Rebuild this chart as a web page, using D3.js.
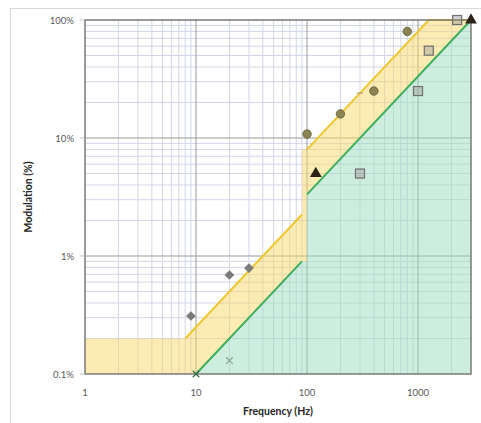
<!DOCTYPE html>
<html>
<head>
<meta charset="utf-8">
<script src="https://cdn.jsdelivr.net/npm/d3@7"></script>
<style>
  body { margin: 0; background: #fff; }
  svg { display: block; }
</style>
</head>
<body>
<script>
var w = 481;
var h = 423;

// axis ticks
var xTicks = [1, 10, 100, 1000];
var xTickLabels = ["1", "10", "100", "1000"];
var yTicks = [0.1, 1, 10, 100];
var yTickLabels = ["0.1%", "1%", "10%", "100%"];

// low-risk limit (yellow) and no-effect limit (green), in %
var lowRiskFreq1 = [8, 90];
var lowRiskMod1 = [0.2, 2.25];
var lowRiskFreq2 = [100, 1250, 3000];
var lowRiskMod2 = [8, 100, 100];
var noEffectFreq1 = [10, 90];
var noEffectMod1 = [0.1, 0.9];
var noEffectFreq2 = [100, 3000];
var noEffectMod2 = [3.33, 100];

// measured lamps
var diamondFreq = [9, 20, 30];
var diamondMod = [0.31, 0.69, 0.79];
var circleFreq = [100, 200, 400, 800];
var circleMod = [10.8, 16, 25, 80];
var squareFreq = [300, 1000, 1250, 2250];
var squareMod = [5, 25, 55, 100];
var triangleFreq = [120, 3000];
var triangleMod = [5, 100];
var crossFreq = [20, 10];
var crossMod = [0.13, 0.1];
var dashFreq = [300];
var dashMod = [24];

var svg = d3.select("body").append("svg")
            .attr("width", w)
            .attr("height", h);

// outer chart frame
svg.append("rect")
   .attr("x", 10.5).attr("y", 8.5)
   .attr("width", 490).attr("height", 430)
   .attr("fill", "none")
   .attr("stroke", "#d9d9d9");

var x = d3.scaleLog().domain([1, 3000]).range([85, 471]);
var y = d3.scaleLog().domain([0.1, 100]).range([374, 20]);

function zip(f, m) {
  return f.map(function(d, i) { return [d, m[i]]; });
}

// minor grid
var minorX = [], minorY = [];
[1, 10, 100, 1000].forEach(function(dec) {
  for (var k = 2; k <= 9; k++) {
    if (dec * k < 3000) minorX.push(dec * k);
  }
});
[0.1, 1, 10].forEach(function(dec) {
  for (var k = 2; k <= 9; k++) minorY.push(dec * k);
});

var grid = svg.append("g");
grid.selectAll(".mx").data(minorX).enter().append("line")
    .attr("x1", function(d){ return x(d); }).attr("x2", function(d){ return x(d); })
    .attr("y1", y(100)).attr("y2", y(0.1))
    .attr("stroke", "#d3d6ea").attr("stroke-width", 1);
grid.selectAll(".my").data(minorY).enter().append("line")
    .attr("y1", function(d){ return y(d); }).attr("y2", function(d){ return y(d); })
    .attr("x1", x(1)).attr("x2", x(3000))
    .attr("stroke", "#d3d6ea").attr("stroke-width", 1);
grid.selectAll(".Mx").data([10, 100, 1000]).enter().append("line")
    .attr("x1", function(d){ return x(d); }).attr("x2", function(d){ return x(d); })
    .attr("y1", y(100)).attr("y2", y(0.1))
    .attr("stroke", "#9a9a9a").attr("stroke-width", 1);
grid.selectAll(".My").data([1, 10]).enter().append("line")
    .attr("y1", function(d){ return y(d); }).attr("y2", function(d){ return y(d); })
    .attr("x1", x(1)).attr("x2", x(3000))
    .attr("stroke", "#9a9a9a").attr("stroke-width", 1);

var line = d3.line()
  .x(function(d){ return x(d[0]); })
  .y(function(d){ return y(d[1]); });

// green area under the no-effect limit
var greenArea = [[10, 0.1]].concat(zip(noEffectFreq1, noEffectMod1))
  .concat([[100, 0.9]]).concat(zip(noEffectFreq2, noEffectMod2))
  .concat([[3000, 0.1]]);

// yellow area between the two limits
var upper = [[1, 0.2]].concat(zip(lowRiskFreq1, lowRiskMod1))
  .concat([[90, 8]]).concat(zip(lowRiskFreq2, lowRiskMod2));
var lower = greenArea.slice(0, greenArea.length - 1).reverse().concat([[1, 0.1]]);
var yellowArea = [[1, 0.1]].concat(upper).concat(lower);

svg.append("path").attr("d", line(yellowArea) + "Z")
   .attr("fill", "#fcd86a").attr("fill-opacity", 0.5);
svg.append("path").attr("d", line(greenArea) + "Z")
   .attr("fill", "#9bddbd").attr("fill-opacity", 0.5);

// limit lines
[zip(lowRiskFreq1, lowRiskMod1), zip(lowRiskFreq2, lowRiskMod2)].forEach(function(seg) {
  svg.append("path").attr("d", line(seg))
     .attr("fill", "none").attr("stroke", "#f0c832").attr("stroke-width", 2);
});
[zip(noEffectFreq1, noEffectMod1), zip(noEffectFreq2, noEffectMod2)].forEach(function(seg) {
  svg.append("path").attr("d", line(seg))
     .attr("fill", "none").attr("stroke", "#3fae5e").attr("stroke-width", 2);
});

// plot frame
svg.append("rect")
   .attr("x", x(1)).attr("y", y(100))
   .attr("width", x(3000) - x(1)).attr("height", y(0.1) - y(100))
   .attr("fill", "none").attr("stroke", "#7a7a7a").attr("stroke-width", 1.5);

// markers
svg.selectAll(".diamond").data(zip(diamondFreq, diamondMod)).enter().append("path")
   .attr("d", d3.symbol().type(d3.symbolDiamond2).size(60))
   .attr("transform", function(d){ return "translate(" + x(d[0]) + "," + y(d[1]) + ")"; })
   .attr("fill", "#7a7a7a");

svg.selectAll(".circle").data(zip(circleFreq, circleMod)).enter().append("circle")
   .attr("cx", function(d){ return x(d[0]); })
   .attr("cy", function(d){ return y(d[1]); })
   .attr("r", 4.2)
   .attr("fill", "#8a8452").attr("stroke", "#6e6a3e").attr("stroke-width", 1);

svg.selectAll(".square").data(zip(squareFreq, squareMod)).enter().append("rect")
   .attr("x", function(d){ return x(d[0]) - 4.5; })
   .attr("y", function(d){ return y(d[1]) - 4.5; })
   .attr("width", 9).attr("height", 9)
   .attr("fill", "#9a9a9a").attr("fill-opacity", 0.45)
   .attr("stroke", "#707070").attr("stroke-width", 1.2);

svg.selectAll(".tri").data(zip(triangleFreq, triangleMod)).enter().append("path")
   .attr("d", d3.symbol().type(d3.symbolTriangle).size(60))
   .attr("transform", function(d){ return "translate(" + x(d[0]) + "," + y(d[1]) + ")"; })
   .attr("fill", "#2a2418");

svg.selectAll(".cross").data(zip(crossFreq, crossMod)).enter().append("path")
   .attr("d", d3.symbol().type(d3.symbolX).size(30))
   .attr("transform", function(d){ return "translate(" + x(d[0]) + "," + y(d[1]) + ")"; })
   .attr("stroke", function(d, i){ return i === 0 ? "#8aa597" : "#2f6b3c"; })
   .attr("stroke-width", 1.2);

svg.selectAll(".dash").data(zip(dashFreq, dashMod)).enter().append("line")
   .attr("x1", function(d){ return x(d[0]) - 3; })
   .attr("x2", function(d){ return x(d[0]) + 3; })
   .attr("y1", function(d){ return y(d[1]); })
   .attr("y2", function(d){ return y(d[1]); })
   .attr("stroke", "#a09a7a").attr("stroke-width", 1);

// tick labels
svg.selectAll(".xt").data(xTicks).enter().append("text")
   .attr("x", function(d){ return x(d); })
   .attr("y", 396)
   .attr("text-anchor", "middle")
   .attr("font-family", "Lato, 'Open Sans', sans-serif")
   .attr("font-size", "9.5px")
   .attr("fill", "#595959")
   .text(function(d, i){ return xTickLabels[i]; });

svg.selectAll(".yt").data(yTicks).enter().append("text")
   .attr("x", 74)
   .attr("y", function(d){ return y(d) + 3.5; })
   .attr("text-anchor", "end")
   .attr("font-family", "Lato, 'Open Sans', sans-serif")
   .attr("font-size", "9.5px")
   .attr("fill", "#595959")
   .text(function(d, i){ return yTickLabels[i]; });

svg.selectAll(".ytick").data(yTicks).enter().append("line")
   .attr("x1", 80).attr("x2", x(1))
   .attr("y1", function(d){ return y(d); }).attr("y2", function(d){ return y(d); })
   .attr("stroke", "#bfbfbf");

// axis titles
svg.append("text")
   .attr("x", (x(1) + x(3000)) / 2)
   .attr("y", 415)
   .attr("text-anchor", "middle")
   .attr("font-family", "Lato, 'Open Sans', sans-serif")
   .attr("font-weight", "bold")
   .attr("font-size", "10.5px")
   .attr("fill", "#262626")
   .text("Frequency (Hz)");

svg.append("text")
   .attr("transform", "translate(32," + (y(0.1) + y(100)) / 2 + ") rotate(-90)")
   .attr("text-anchor", "middle")
   .attr("font-family", "Lato, 'Open Sans', sans-serif")
   .attr("font-weight", "bold")
   .attr("font-size", "10.5px")
   .attr("fill", "#262626")
   .text("Modulation (%)");
</script>
</body>
</html>
